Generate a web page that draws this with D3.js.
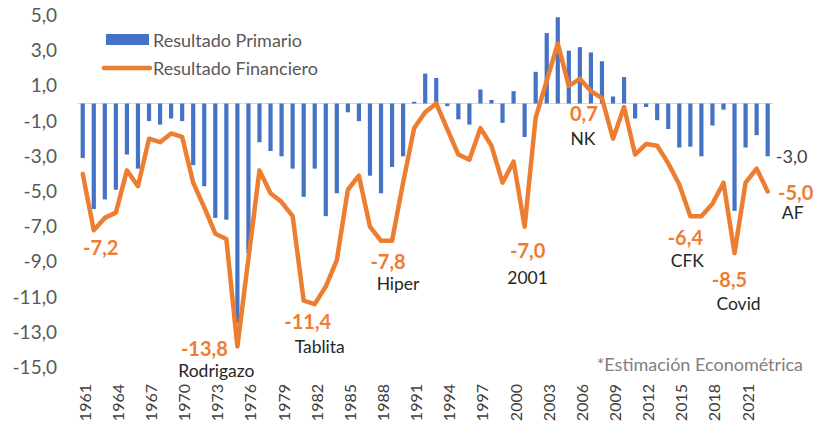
<!DOCTYPE html>
<html>
<head>
<meta charset="utf-8">
<script src="https://cdn.jsdelivr.net/npm/d3@7"></script>
<style>
  html, body { margin: 0; padding: 0; background: #fff; }
  svg { display: block; font-family: Lato, "Open Sans", sans-serif; }
</style>
</head>
<body>
<svg id="chart" width="815" height="431"></svg>
<script>
// Argentina: resultado primario y financiero (% PBI), 1961-2023
const years = d3.range(1961, 2024);
const primario = [
  -3.1, -6.0, -5.45, -4.9, -2.9, -3.7, -1.0, -1.2, -0.85, -1.0,
  -3.5, -4.7, -6.5, -6.6, -12.5, -8.5, -2.2, -2.7, -3.0, -3.7,
  -5.3, -3.7, -6.4, -5.1, -0.5, -1.0, -4.1, -5.1, -3.6, -3.0,
  0.1, 1.7, 1.45, -0.15, -0.9, -1.2, 0.8, 0.2, -1.1, 0.7,
  -1.9, 1.8, 4.0, 4.9, 3.0, 3.2, 2.9, 2.4, 0.4, 1.5,
  -0.85, -0.2, -0.95, -1.45, -2.5, -2.45, -3.0, -1.25, -0.35, -6.1,
  -2.5, -1.8, -3.0
];
const financiero = [
  -4.0, -7.2, -6.5, -6.2, -3.8, -4.7, -2.0, -2.2, -1.7, -1.9,
  -4.5, -5.9, -7.4, -7.7, -13.8, -8.8, -3.8, -5.1, -5.6, -6.4,
  -11.2, -11.4, -10.4, -8.9, -4.9, -4.1, -7.0, -7.8, -7.8, -4.5,
  -1.4, -0.5, 0.0, -1.45, -2.9, -3.2, -1.4, -2.4, -4.5, -3.3,
  -7.0, -0.8, 1.3, 3.4, 1.0, 1.4, 0.7, 0.3, -2.0, -0.2,
  -2.9, -2.3, -2.4, -3.4, -4.6, -6.4, -6.4, -5.7, -4.5, -8.5,
  -4.5, -3.7, -5.0
];
const yTicks = [-15, -13, -11, -9, -7, -5, -3, -1, 1, 3, 5];
const yearTicks = d3.range(1961, 2024, 3);
const seriesNames = ["Resultado Primario", "Resultado Financiero"];

// episodios marcados sobre la línea financiera
const hitoYears = [1962, 1975, 1982, 1989, 2001, 2007, 2016, 2020, 2023];
const hitoNames = [null, "Rodrigazo", "Tablita", "Hiper", "2001", "NK", "CFK", "Covid", "AF"];
const nota = "*Estimación Econométrica";

const blue = "#4472C4", orange = "#ED7D31";
const locale = d3.formatLocale({ decimal: ",", thousands: ".", grouping: [3], currency: ["$", ""], minus: "-" });
const fmt = locale.format(".1f");

const svg = d3.select("#chart");
const x = d3.scaleBand().domain(years).range([77.2, 773.2]).paddingInner(0.62).paddingOuter(0.31);
const y = d3.scaleLinear().domain([-15, 5]).range([367.5, 15.5]);
const cx = yr => x(yr) + x.bandwidth() / 2;

// línea de cero
svg.append("line")
  .attr("x1", x.range()[0]).attr("x2", x.range()[1])
  .attr("y1", y(0)).attr("y2", y(0))
  .attr("stroke", "#d9d9d9").attr("stroke-width", 1);

// eje y (solo etiquetas)
const yAxis = svg.append("g").attr("transform", "translate(57,0)")
  .call(d3.axisLeft(y).tickValues(yTicks).tickFormat(fmt).tickSize(0).tickPadding(0));
yAxis.select(".domain").remove();
yAxis.selectAll("text").attr("font-size", 19).attr("fill", "#595959").attr("font-family", "Lato");

// años rotados
const xAxis = svg.append("g").attr("transform", "translate(0,384)")
  .call(d3.axisBottom(x).tickValues(yearTicks).tickSize(0).tickPadding(0));
xAxis.select(".domain").remove();
xAxis.selectAll("text")
  .attr("font-size", 16).attr("fill", "#404040").attr("font-family", "Lato")
  .attr("text-anchor", "end").attr("dominant-baseline", "central")
  .attr("x", 0).attr("y", 0).attr("dy", null)
  .attr("transform", "translate(1.5,0) rotate(-90)");

// barras: resultado primario
svg.append("g").selectAll("rect")
  .data(years.map((yr, i) => ({ yr, v: primario[i] })))
  .join("rect")
  .attr("x", d => x(d.yr))
  .attr("width", x.bandwidth())
  .attr("y", d => y(Math.max(0, d.v)))
  .attr("height", d => Math.abs(y(d.v) - y(0)))
  .attr("fill", blue);

// línea: resultado financiero
const line = d3.line().x(d => cx(d.yr)).y(d => y(d.v));
svg.append("path")
  .datum(years.map((yr, i) => ({ yr, v: financiero[i] })))
  .attr("d", line)
  .attr("fill", "none")
  .attr("stroke", orange)
  .attr("stroke-width", 4.5)
  .attr("stroke-linejoin", "round")
  .attr("stroke-linecap", "round");

// leyenda
const legend = svg.append("g");
legend.append("rect").attr("x", 106).attr("y", 34).attr("width", 43).attr("height", 11).attr("fill", blue);
legend.append("line").attr("x1", 104).attr("x2", 150).attr("y1", 68).attr("y2", 68)
  .attr("stroke", orange).attr("stroke-width", 4.5).attr("stroke-linecap", "round");
legend.selectAll("text").data(seriesNames).join("text")
  .attr("x", 153).attr("y", (d, i) => i ? 68 : 40)
  .attr("dominant-baseline", "central")
  .attr("font-size", 18).attr("fill", "#595959")
  .text(d => d);

// etiquetas de hitos (desplazamiento respecto al punto)
const valueOffset = [[7, 17], [-33, 2], [-7, 17], [-4, 20], [3, 23], [-7, 22], [-5, 21], [-5, 26], [28, 0]];
const nameOffset = [null, [-21, 24], [5, 42], [6, 43], [3, 51], [-8, 47], [-3, 44], [4, 50], [25, 21]];
const notes = svg.append("g");
hitoYears.forEach((yr, i) => {
  const v = financiero[years.indexOf(yr)];
  const px = cx(yr), py = y(v);
  notes.append("text")
    .attr("x", px + valueOffset[i][0]).attr("y", py + valueOffset[i][1])
    .attr("text-anchor", "middle").attr("dominant-baseline", "central")
    .attr("font-size", 20).attr("font-weight", "bold").attr("fill", orange)
    .text(fmt(v));
  if (hitoNames[i]) {
    notes.append("text")
      .attr("x", px + nameOffset[i][0]).attr("y", py + nameOffset[i][1])
      .attr("text-anchor", "middle").attr("dominant-baseline", "central")
      .attr("font-size", 17.5).attr("fill", "#262626")
      .text(hitoNames[i]);
  }
});

// último primario
const lastYear = years[years.length - 1];
const lastPrim = primario[primario.length - 1];
notes.append("text")
  .attr("x", cx(lastYear) + 24).attr("y", y(lastPrim))
  .attr("text-anchor", "middle").attr("dominant-baseline", "central")
  .attr("font-size", 18).attr("fill", "#404040")
  .text(fmt(lastPrim));

svg.append("text")
  .attr("x", 803).attr("y", 364)
  .attr("text-anchor", "end").attr("dominant-baseline", "central")
  .attr("font-size", 18).attr("fill", "#7f7f7f")
  .text(nota);
</script>
</body>
</html>
